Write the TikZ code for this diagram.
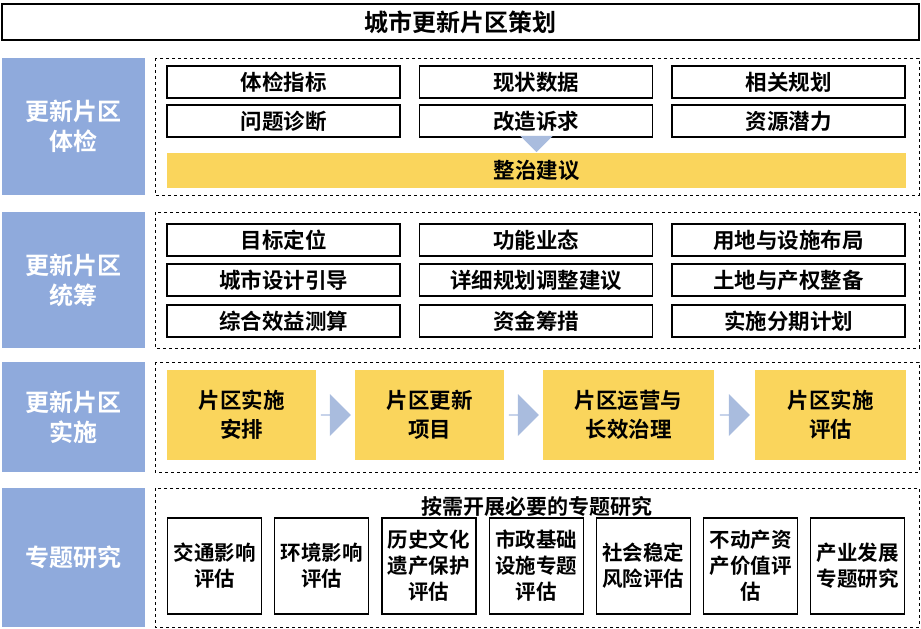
\documentclass[tikz,border=0pt]{standalone}
\usepackage{fontspec}
\newfontfamily\cjk{Noto Sans CJK SC}[BoldFont={Noto Sans CJK SC Bold}]
\usetikzlibrary{shapes.arrows}
\definecolor{sideblue}{HTML}{8FAADC}
\definecolor{boxyellow}{HTML}{FAD55C}
\definecolor{arrowblue}{HTML}{A9BCDE}
\tikzset{
  side/.style={fill=sideblue, text=white, font=\cjk\bfseries\fontsize{24}{30}\selectfont, align=center, inner sep=0pt},
  item/.style={draw, line width=1.2pt, fill=white, font=\cjk\bfseries\fontsize{21.5}{24}\selectfont, inner sep=0pt, align=center},
  yitem/.style={fill=boxyellow, font=\cjk\bfseries\fontsize{21.5}{29}\selectfont, inner sep=0pt, align=center},
  region/.style={draw, dashed, line width=0.6pt},
  flow/.style={single arrow, fill=arrowblue, minimum height=30pt, minimum width=42pt, single arrow head extend=6pt, inner sep=0pt}
}
\begin{document}
\begin{tikzpicture}[x=1pt,y=-1pt]
  \useasboundingbox (0,0) rectangle (921,629);
  % title
  \node[draw, line width=1.2pt, font=\cjk\bfseries\fontsize{24}{26}\selectfont, minimum width=917pt, minimum height=36pt, inner sep=0pt] (title) at (460.5,22) {城市更新片区策划};

  % side labels and dashed regions
  \foreach \n/\ya/\yb/\t in {chk/58/195/{更新片区\\体检}, plan/212/348/{更新片区\\统筹}, impl/362/472/{更新片区\\实施}, topic/488/627/{专题研究}}{
    \fill[sideblue] (2,\ya) rectangle (145,\yb);
    \node[side] (side-\n) at (73.5,{(\ya+\yb)/2}) {\t};
    \draw[region] (155,\ya) rectangle (919,\yb);
  }

  % check-up items
  \foreach \t [count=\i] in {体检指标,现状数据,相关规划}{
    \node[item, minimum width=233pt, minimum height=32pt] (chk1-\i) at ({283.5+(\i-1)*252.5},82) {\t};
  }
  \foreach \t [count=\i] in {问题诊断,改造诉求,资源潜力}{
    \node[item, minimum width=233pt, minimum height=32pt] (chk2-\i) at ({283.5+(\i-1)*252.5},121) {\t};
  }
  \node[yitem, minimum width=739pt, minimum height=35pt] (advice) at (536.5,170) {整治建议};
  \node[single arrow, shape border rotate=270, fill=arrowblue, minimum height=16pt, minimum width=30pt, single arrow head extend=16pt, inner sep=0pt, anchor=tip] (down) at (advice.north) {};

  % coordination items
  \foreach \t [count=\i] in {目标定位,功能业态,用地与设施布局}{
    \node[item, minimum width=233pt, minimum height=32pt] (plan1-\i) at ({283.5+(\i-1)*252.5},240) {\t};
  }
  \foreach \t [count=\i] in {城市设计引导,详细规划调整建议,土地与产权整备}{
    \node[item, minimum width=233pt, minimum height=32pt] (plan2-\i) at ({283.5+(\i-1)*252.5},280) {\t};
  }
  \foreach \t [count=\i] in {综合效益测算,资金筹措,实施分期计划}{
    \node[item, minimum width=233pt, minimum height=32pt] (plan3-\i) at ({283.5+(\i-1)*252.5},321) {\t};
  }

  % implementation flow
  \node[yitem, minimum width=149pt, minimum height=90pt] (step1) at (241.5,415) {片区实施\\安排};
  \node[yitem, minimum width=149pt, minimum height=90pt] (step2) at (429.5,415) {片区更新\\项目};
  \node[yitem, minimum width=171pt, minimum height=90pt] (step3) at (628.5,415) {片区运营与\\长效治理};
  \node[yitem, minimum width=151pt, minimum height=90pt] (step4) at (830.5,415) {片区实施\\评估};
  \foreach \a/\b in {step1/step2,step2/step3,step3/step4}{
    \path (\a.east) -- node[flow] {} (\b.west);
  }

  % topic studies
  \node[font=\cjk\bfseries\fontsize{21}{24}\selectfont, inner sep=0pt] (topic-head) at (537,506) {按需开展必要的专题研究};
  \foreach \t [count=\i] in {{交通影响\\评估},{环境影响\\评估},{历史文化\\遗产保护\\评估},{市政基础\\设施专题\\评估},{社会稳定\\风险评估},{不动产资\\产价值评\\估},{产业发展\\专题研究}}{
    \node[item, font=\cjk\bfseries\fontsize{20.5}{26}\selectfont, minimum width=94pt, minimum height=96pt] (topic-\i) at ({214.5+(\i-1)*107.2},566) {\t};
  }
\end{tikzpicture}
\end{document}
